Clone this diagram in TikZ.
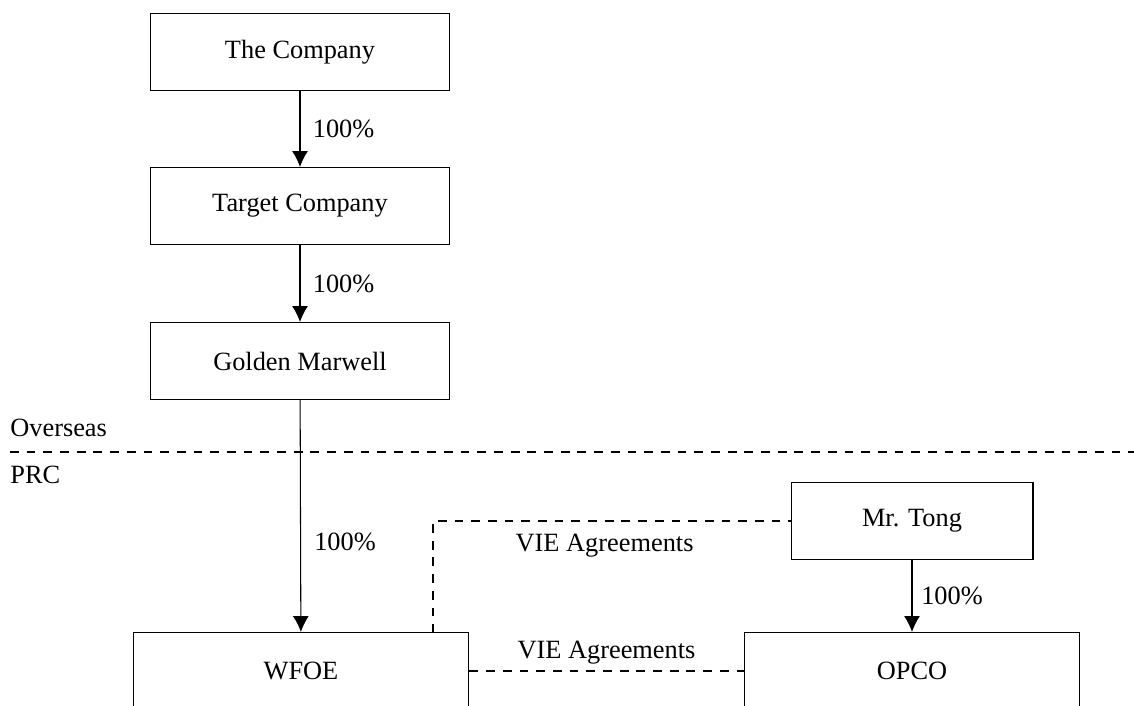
\documentclass[tikz,border=0pt]{standalone}
\usepackage{fontspec}
\setmainfont{Liberation Serif}
\usetikzlibrary{arrows.meta}
\def\boxH{1.54cm}
\def\wideW{6.72cm}
\def\topW{6cm}
\def\tongW{4.84cm}
\tikzset{
	entity/.style={draw, line width=0.6pt, minimum height=\boxH, inner sep=0pt, font=\fontsize{15}{18}\selectfont},
	own/.style={line width=0.6pt, -{Latex[length=9pt,width=9pt]}},
	vie/.style={line width=0.6pt, dash pattern=on 5pt off 4.5pt},
	lbl/.style={font=\fontsize{15}{18}\selectfont, inner sep=0pt}
}

\begin{document}
\begin{tikzpicture}[x=0.02cm, y=-0.02cm]

	\useasboundingbox (0,0) rectangle (1134,706);

	%overseas holding chain
	\node[entity, minimum width=\topW] (company) at (300,52) {The Company};
	\node[entity, minimum width=\topW] (target) at (300,206) {Target Company};
	\node[entity, minimum width=\topW] (golden) at (300,361) {Golden Marwell};

	%PRC entities
	\node[entity, minimum width=\tongW] (tong) at (912,521) {Mr. Tong};
	\node[entity, minimum width=\wideW] (wfoe) at (301,671) {WFOE};
	\node[entity, minimum width=\wideW] (opco) at (912,671) {OPCO};

	%border between overseas and PRC
	\coordinate (border west) at (10,452);
	\coordinate (border east) at (1134,452);
	\draw[vie] (border west) -- (border east);
	\node[lbl, anchor=south west] (overseas) at (10,437) {Overseas};
	\node[lbl, anchor=north west] (prc) at (10,466) {PRC};

	%ownership arrows
	\draw[own] (company) -- node[lbl, right=7pt] (own a) {100\%} (target);
	\draw[own] (target) -- node[lbl, right=7pt] (own b) {100\%} (golden);
	\draw[own] (golden) -- node[lbl, right=7.5pt, pos=0.61] (own c) {100\%} (wfoe);
	\draw[own] (tong) -- node[lbl, right=5pt] (own d) {100\%} (opco);

	%VIE agreements
	\coordinate (vie corner) at (433,633);
	\draw[vie] (vie corner) |- node[lbl, pos=0.74, below=7pt] (vie a) {VIE Agreements} (tong.west);
	\draw[vie] (wfoe) -- node[lbl, above=3.5pt] (vie b) {VIE Agreements} (opco);

\end{tikzpicture}
\end{document}
